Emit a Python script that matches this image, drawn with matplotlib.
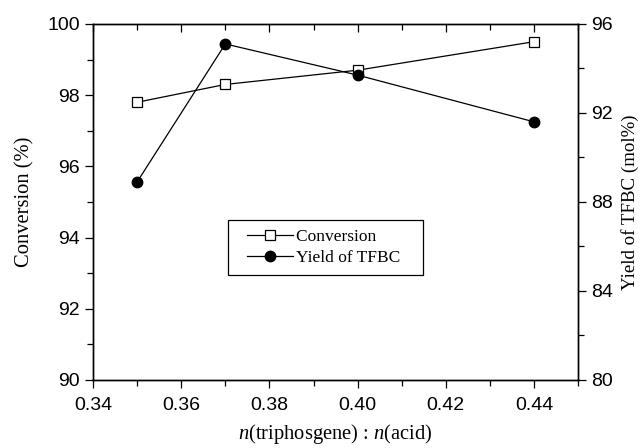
import matplotlib.pyplot as plt
from matplotlib.ticker import MultipleLocator
from matplotlib.legend_handler import HandlerLine2D

plt.rcParams['mathtext.fontset'] = 'custom'
plt.rcParams['mathtext.it'] = 'Liberation Serif:italic'
plt.rcParams['mathtext.rm'] = 'Liberation Serif'

# data
ratio = [0.35, 0.37, 0.40, 0.44]
conversion = [97.8, 98.3, 98.7, 99.5]
yield_tfbc = [88.9, 95.1, 93.7, 91.6]

tick_font = 'Liberation Sans'
label_font = 'Liberation Serif'

fig = plt.figure(figsize=(6.42, 4.48), dpi=100)
ax = fig.add_axes([0.145, 0.152, 0.7553, 0.7946])
ax2 = ax.twinx()

l1, = ax.plot(ratio, conversion, color='black', lw=0.9, marker='s', ms=6.5,
              mfc='white', mec='black', mew=0.9, label='Conversion')
l2, = ax2.plot(ratio, yield_tfbc, color='black', lw=0.9, marker='o', ms=7.5,
               mfc='black', mec='black', label='Yield of TFBC')

ax.set_xlim(0.34, 0.45)
ax.set_ylim(90, 100)
ax2.set_ylim(80, 96)

ax.xaxis.set_major_locator(MultipleLocator(0.02))
ax.xaxis.set_minor_locator(MultipleLocator(0.01))
ax.yaxis.set_major_locator(MultipleLocator(2))
ax.yaxis.set_minor_locator(MultipleLocator(1))
ax2.yaxis.set_major_locator(MultipleLocator(4))
ax2.yaxis.set_minor_locator(MultipleLocator(2))
ax.xaxis.set_major_formatter(plt.FuncFormatter(lambda v, p: f'{v:.2f}'))

ax.tick_params(axis='x', which='both', direction='out', top=True)
ax.tick_params(axis='x', which='major', length=6, width=0.9, labelsize=14, pad=6)
ax.tick_params(axis='x', which='minor', length=4, width=0.9)
ax.tick_params(axis='y', which='major', direction='out', length=6, width=0.9, labelsize=14)
ax.tick_params(axis='y', which='minor', direction='out', length=4, width=0.9)
ax2.tick_params(axis='y', which='major', direction='out', length=6, width=0.9, labelsize=14)
ax2.tick_params(axis='y', which='minor', direction='out', length=4, width=0.9)

for a in (ax, ax2):
    for s in a.spines.values():
        s.set_linewidth(1.0)
    for lab in a.get_xticklabels() + a.get_yticklabels():
        lab.set_fontfamily(tick_font)

# top ticks point inward
for t in ax.xaxis.get_major_ticks() + ax.xaxis.get_minor_ticks():
    t.tick2line.set_marker(3)

ax.set_xlabel(r'$n$(triphosgene) : $n$(acid)', fontfamily=label_font, fontsize=14.8, va='center')
ax.xaxis.set_label_coords(0.5, -0.152)
ax.set_ylabel('Conversion (%)', fontfamily=label_font, fontsize=14.8, va='center')
ax.yaxis.set_label_coords(-0.14, 0.5)
ax2.set_ylabel('Yield of TFBC (mol%)', fontfamily=label_font, fontsize=13.6, va='center')
ax2.yaxis.set_label_coords(1.107, 0.5)

# trailing spaces widen the frame on the right, as in the reference box
labels = ['Conversion   ', 'Yield of TFBC   ']
leg = ax.legend([l1, l2], labels, loc='upper left',
                bbox_to_anchor=(0.278, 0.449), borderaxespad=0, fancybox=False,
                edgecolor='black', framealpha=1, prop={'family': label_font, 'size': 12.5},
                handlelength=3.25, handletextpad=0.2, labelspacing=0.3, borderpad=0.5,
                handler_map={l1: HandlerLine2D(xpad=0.6), l2: HandlerLine2D(xpad=0.6)})
leg.get_frame().set_linewidth(0.9)

fig.savefig('out.png', dpi=100)
